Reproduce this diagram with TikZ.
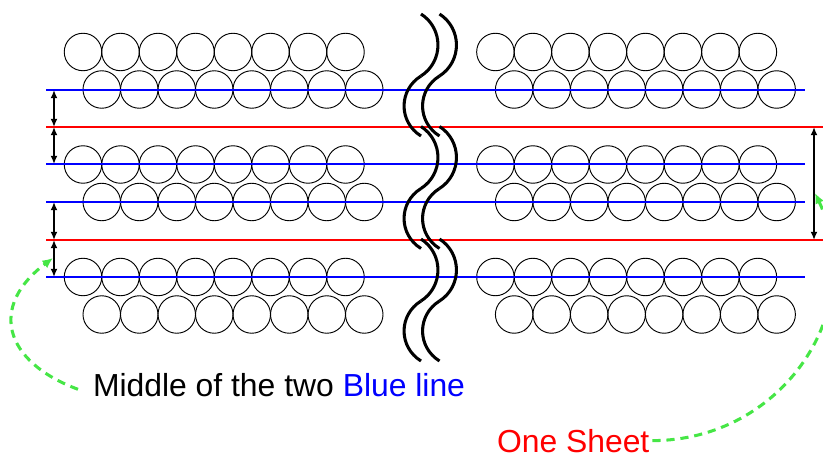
\documentclass[tikz,border=0pt]{standalone}
\usepackage{fontspec}
\setmainfont{Liberation Sans}
\usetikzlibrary{arrows.meta}
\definecolor{hintgreen}{RGB}{70,230,70}
\tikzset{
    grain/.style={draw=black, line width=0.8pt},
    midline/.style={draw=blue, line width=0.06cm},
    sheetline/.style={draw=red, line width=0.06cm},
    gap/.style={draw=black, line width=0.06cm, {Latex[length=7pt, width=6pt]}-{Latex[length=7pt, width=6pt]}},
    wave/.style={draw=black, line width=2.6pt},
    hint/.style={draw=hintgreen, line width=2.6pt, dash pattern=on 7pt off 5pt, -{Latex[length=9pt, width=8pt]}},
    caption/.style={font=\fontsize{27.2}{31}\selectfont, inner sep=0pt},
    common settings/.style={x=0.03cm, y=-0.03cm}
}

\begin{document}
\begin{tikzpicture}[common settings]
    \useasboundingbox (0,0) rectangle (823,457);
    \clip (0,0) rectangle (823,457);

    % Configuration
    \def\rad{18.75}    % Radius of one grain
    \def\pitch{37.5}   % Distance between grain centres

    % 1. Grain rows, left and right of the break
    \foreach \y/\stag in {52/0, 89.5/1, 164.5/0, 202/1, 277/0, 314.5/1} {
        \foreach \xo in {83, 495.4} {
            \foreach \i in {0,...,7} {
                \draw[grain] (\xo + \stag*\rad + \i*\pitch, \y) circle (\rad);
            }
        }
    }

    % 2. Middle lines (blue) and sheet borders (red)
    \foreach \y in {90, 164, 202, 277}
        \draw[midline] (46,\y) -- (805,\y);
    \foreach \y in {127, 240}
        \draw[sheetline] (46,\y) -- (823,\y);

    % 3. Spacing arrows
    \foreach \ya/\yb in {90/127, 127/164, 202/240, 240/277}
        \draw[gap] (54,\ya) -- (54,\yb);
    \draw[gap] (814,127) -- (814,240);

    % 4. Break marks
    \foreach \k in {0,1,2} {
        \pgfmathsetmacro{\yo}{14 + 112.5*\k}
        \foreach \dx in {0, 18.5} {
            \draw[wave] (421+\dx, \yo) .. controls +(22.6,14.5) and +(22.6,-14.5) .. (421+\dx, \yo+62);
            \draw[wave] (421+\dx, \yo+62) .. controls +(-22.6,14) and +(-22.6,-14) .. (421+\dx, \yo+122);
        }
    }

    % 5. Labels and hints
    \node[caption, anchor=base west, outer xsep=0.45cm] (middle) at (78,396.7)
        {Middle of the two \textcolor{blue}{Blue line}};
    \node[caption, text=red, anchor=base west, outer xsep=0.09cm] (sheet) at (494,452) {One Sheet};

    \coordinate (gapTip) at (53,258);
    \coordinate (sheetTip) at (815,193);
    \draw[hint] ([yshift=-0.12cm]middle.west) .. controls +(-75,-28) and +(-64,48) .. (gapTip);
    \draw[hint] (sheet.east) .. controls +(130,0) and +(55,117) .. (sheetTip);

\end{tikzpicture}
\end{document}
